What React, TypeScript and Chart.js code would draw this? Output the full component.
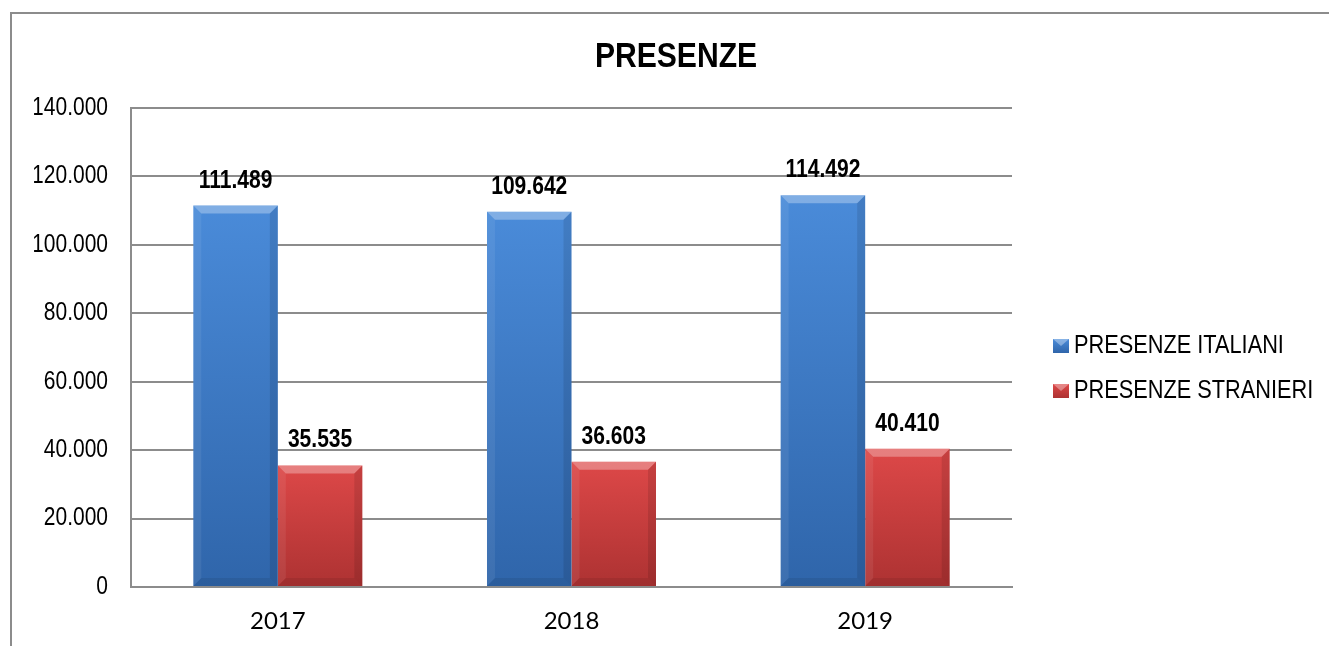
import React, { useEffect, useRef } from "react";
import { Chart, registerables, LinearScale } from "chart.js";

Chart.register(...registerables);

const categories = ["2017", "2018", "2019"];
const seriesLabels = ["PRESENZE ITALIANI", "PRESENZE STRANIERI"];
const italiani = [111489, 109642, 114492];
const stranieri = [35535, 36603, 40410];
const yMax = 140000;
const yStep = 20000;
const titleText = "PRESENZE";

const SANS = "'Liberation Sans', Arial, sans-serif";

const fmt = (v: number) =>
  String(Math.round(v)).replace(/\B(?=(\d{3})+(?!\d))/g, ".");

const palettes = [
  { top: "#4a8bd9", bottom: "#2f65aa" },
  { top: "#dd4848", bottom: "#ad3232" },
];

// Linear scale whose tick labels are horizontally condensed (Arial Narrow look)
class NarrowLinearScale extends (LinearScale as any) {
  static id = "narrowLinear";
  static defaults = (LinearScale as any).defaults;
  drawLabels(chartArea: any) {
    const ctx = this.ctx;
    const anchor = this.right - (this.options.ticks.padding || 0);
    ctx.save();
    ctx.translate(anchor, 0);
    ctx.scale(0.84, 1);
    ctx.translate(-anchor, 0);
    super.drawLabels(chartArea);
    ctx.restore();
  }
}
Chart.register(NarrowLinearScale as any);

function barGradient(ctx: any, pal: { top: string; bottom: string }) {
  const chart = ctx.chart;
  const area = chart.chartArea;
  if (!area || ctx.type !== "data") return pal.top;
  const yScale = chart.scales.y;
  const top = yScale.getPixelForValue(ctx.raw);
  const bottom = yScale.getPixelForValue(0);
  const g = chart.ctx.createLinearGradient(0, top, 0, bottom);
  g.addColorStop(0, pal.top);
  g.addColorStop(1, pal.bottom);
  return g;
}

function narrowText(ctx: any, text: string, x: number, y: number, sx: number) {
  ctx.save();
  ctx.translate(x, y);
  ctx.scale(sx, 1);
  ctx.fillText(text, 0, 0);
  ctx.restore();
}

const bevelPlugin = {
  id: "bevel",
  afterDatasetsDraw(chart: any) {
    const ctx = chart.ctx;
    ctx.save();
    chart.data.datasets.forEach((_: any, di: number) => {
      const meta = chart.getDatasetMeta(di);
      meta.data.forEach((bar: any) => {
        const w = bar.width;
        const l = bar.x - w / 2;
        const r = bar.x + w / 2;
        const t = bar.y;
        const b = bar.base;
        const s = 8;
        ctx.beginPath();
        ctx.moveTo(l, t);
        ctx.lineTo(r, t);
        ctx.lineTo(r - s, t + s);
        ctx.lineTo(l + s, t + s);
        ctx.closePath();
        ctx.fillStyle = "rgba(255,255,255,0.30)";
        ctx.fill();
        ctx.beginPath();
        ctx.moveTo(l, t);
        ctx.lineTo(l + s, t + s);
        ctx.lineTo(l + s, b - s);
        ctx.lineTo(l, b);
        ctx.closePath();
        ctx.fillStyle = "rgba(255,255,255,0.07)";
        ctx.fill();
        ctx.beginPath();
        ctx.moveTo(r, t);
        ctx.lineTo(r - s, t + s);
        ctx.lineTo(r - s, b - s);
        ctx.lineTo(r, b);
        ctx.closePath();
        ctx.fillStyle = "rgba(0,0,0,0.10)";
        ctx.fill();
        ctx.beginPath();
        ctx.moveTo(l, b);
        ctx.lineTo(r, b);
        ctx.lineTo(r - s, b - s);
        ctx.lineTo(l + s, b - s);
        ctx.closePath();
        ctx.fillStyle = "rgba(0,0,0,0.08)";
        ctx.fill();
      });
    });
    ctx.fillStyle = "#000";
    ctx.font = `bold 26px ${SANS}`;
    ctx.textAlign = "center";
    ctx.textBaseline = "alphabetic";
    chart.data.datasets.forEach((ds: any, di: number) => {
      const meta = chart.getDatasetMeta(di);
      meta.data.forEach((bar: any, i: number) => {
        narrowText(ctx, fmt(ds.data[i]), bar.x, bar.y - 18, 0.81);
      });
    });
    ctx.restore();
  },
  afterDraw(chart: any) {
    const ctx = chart.ctx;
    ctx.save();
    ctx.fillStyle = "#000";
    ctx.font = `bold 35px ${SANS}`;
    ctx.textAlign = "center";
    ctx.textBaseline = "alphabetic";
    narrowText(ctx, titleText, 676, 67, 0.86);
    const area = chart.chartArea;
    ctx.font = `25px ${SANS}`;
    ctx.textAlign = "left";
    chart.data.datasets.forEach((ds: any, di: number) => {
      const pal = palettes[di];
      const bx = area.right + 41;
      const by = 339 + di * 45;
      const g = ctx.createLinearGradient(0, by, 0, by + 14);
      g.addColorStop(0, pal.top);
      g.addColorStop(1, pal.bottom);
      ctx.fillStyle = g;
      ctx.fillRect(bx, by, 16, 14);
      ctx.beginPath();
      ctx.moveTo(bx, by);
      ctx.lineTo(bx + 16, by);
      ctx.lineTo(bx + 8, by + 7);
      ctx.closePath();
      ctx.fillStyle = "rgba(255,255,255,0.35)";
      ctx.fill();
      ctx.fillStyle = "#000";
      narrowText(ctx, ds.label, bx + 21, by + 14, 0.87);
    });
    ctx.restore();
  },
};

export default function App() {
  const ref = useRef<HTMLCanvasElement | null>(null);
  useEffect(() => {
    if (!ref.current) return;
    const chart = new Chart(ref.current, {
      type: "bar",
      data: {
        labels: categories,
        datasets: [
          {
            label: seriesLabels[0],
            data: italiani,
            backgroundColor: (c: any) => barGradient(c, palettes[0]),
            borderWidth: 0,
          },
          {
            label: seriesLabels[1],
            data: stranieri,
            backgroundColor: (c: any) => barGradient(c, palettes[1]),
            borderWidth: 0,
          },
        ],
      },
      options: {
        responsive: false,
        animation: false,
        devicePixelRatio: 1,
        layout: { padding: { left: 20, right: 317, top: 108, bottom: 0 } },
        datasets: {
          bar: { barPercentage: 1, categoryPercentage: 0.5755 },
        },
        plugins: {
          legend: { display: false },
          title: { display: false },
          tooltip: { enabled: false },
        },
        scales: {
          x: {
            grid: { display: false, drawTicks: false },
            border: { display: true, color: "#8c8c8c", width: 2 },
            ticks: {
              color: "#000",
              padding: 20,
              font: { family: "Lato, 'Open Sans', sans-serif", size: 24 },
            },
            afterFit: (s: any) => {
              s.height = 59;
            },
          },
          y: {
            type: "narrowLinear",
            min: 0,
            max: yMax,
            grid: { color: "#8c8c8c", lineWidth: 2, drawTicks: false },
            border: { display: true, color: "#8c8c8c", width: 2 },
            ticks: {
              stepSize: yStep,
              color: "#000",
              padding: 23,
              font: { family: SANS, size: 25 },
              callback: (v: any) => fmt(Number(v)),
            },
            afterFit: (s: any) => {
              s.width = 111;
            },
          },
        },
      } as any,
      plugins: [bevelPlugin],
    });
    return () => chart.destroy();
  }, []);

  return (
    <div style={{ position: "fixed", left: 0, top: 0, width: 1329, height: 646, background: "#fff", overflow: "hidden" }}>
      <div
        style={{
          position: "absolute",
          left: 10,
          top: 12,
          width: 1340,
          height: 700,
          border: "2px solid #8c8c8c",
          boxSizing: "border-box",
        }}
      />
      <canvas
        ref={ref}
        width={1329}
        height={646}
        style={{ position: "absolute", left: 0, top: 0, display: "block" }}
      />
    </div>
  );
}
